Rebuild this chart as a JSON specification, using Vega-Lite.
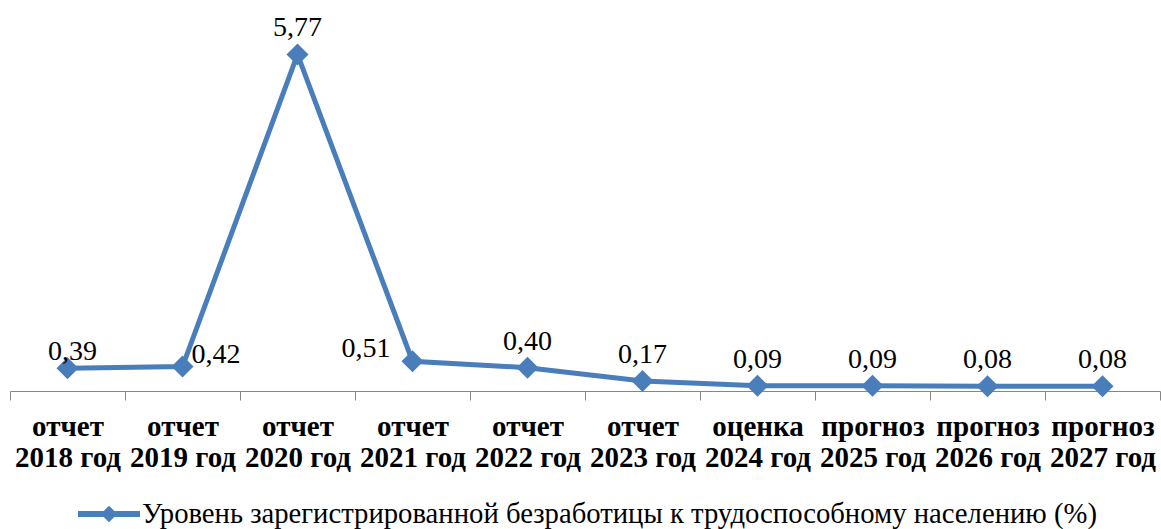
{
  "$schema": "https://vega.github.io/schema/vega-lite/v6.json",
  "width": 1150,
  "height": 350,
  "autosize": {"type": "none"},
  "padding": {"left": 10, "top": 41, "right": 1, "bottom": 138},
  "config": {
    "view": {"stroke": null},
    "font": "Liberation Serif, Times New Roman, serif",
    "text": {"font": "Liberation Serif, Times New Roman, serif"},
    "locale": {"number": {"decimal": ",", "thousands": " ", "grouping": [3], "currency": ["", " ₽"]}}
  },
  "data": {
    "values": [
      {"period": "отчет 2018 год", "value": 0.39, "series": "Уровень зарегистрированной безработицы к трудоспособному населению (%)"},
      {"period": "отчет 2019 год", "value": 0.42, "series": "Уровень зарегистрированной безработицы к трудоспособному населению (%)"},
      {"period": "отчет 2020 год", "value": 5.77, "series": "Уровень зарегистрированной безработицы к трудоспособному населению (%)"},
      {"period": "отчет 2021 год", "value": 0.51, "series": "Уровень зарегистрированной безработицы к трудоспособному населению (%)"},
      {"period": "отчет 2022 год", "value": 0.40, "series": "Уровень зарегистрированной безработицы к трудоспособному населению (%)"},
      {"period": "отчет 2023 год", "value": 0.17, "series": "Уровень зарегистрированной безработицы к трудоспособному населению (%)"},
      {"period": "оценка 2024 год", "value": 0.09, "series": "Уровень зарегистрированной безработицы к трудоспособному населению (%)"},
      {"period": "прогноз 2025 год", "value": 0.09, "series": "Уровень зарегистрированной безработицы к трудоспособному населению (%)"},
      {"period": "прогноз 2026 год", "value": 0.08, "series": "Уровень зарегистрированной безработицы к трудоспособному населению (%)"},
      {"period": "прогноз 2027 год", "value": 0.08, "series": "Уровень зарегистрированной безработицы к трудоспособному населению (%)"}
    ]
  },
  "encoding": {
    "x": {
      "field": "period",
      "type": "nominal",
      "sort": null,
      "scale": {"paddingInner": 0, "paddingOuter": 0},
      "axis": {
        "title": null,
        "labelExpr": "[slice(datum.label, 0, indexof(datum.label, ' ')), slice(datum.label, indexof(datum.label, ' ') + 1)]",
        "labelAngle": 0,
        "labelFont": "Liberation Serif, Times New Roman, serif",
        "labelFontSize": 29,
        "labelFontWeight": "bold",
        "labelColor": "#000000",
        "labelLineHeight": 31,
        "labelBaseline": "alphabetic",
        "labelPadding": 35,
        "labelBound": false,
        "labelOverlap": false,
        "labelFlush": false,
        "labelLimit": 300,
        "tickSize": 9,
        "tickColor": "#868686",
        "tickWidth": 1,
        "domainColor": "#868686",
        "domainWidth": 1,
        "tickBand": "extent",
        "grid": false
      }
    },
    "y": {"field": "value", "type": "quantitative", "scale": {"domain": [0, 6]}, "axis": null}
  },
  "layer": [
    {
      "mark": {"type": "line", "strokeWidth": 5},
      "encoding": {
        "color": {
          "field": "series",
          "type": "nominal",
          "scale": {"range": ["#4a7ebb"]},
          "legend": {
            "title": null,
            "orient": "none",
            "legendX": 68,
            "legendY": 442,
            "padding": 0,
            "labelFont": "Liberation Serif, Times New Roman, serif",
            "labelFontSize": 28.7,
            "labelColor": "#000000",
            "labelLimit": 1100,
            "labelOffset": 2,
            "symbolType": "M-1,-0.1L-0.17,-0.1L0,-0.27L0.17,-0.1L1,-0.1L1,0.1L0.17,0.1L0,0.27L-0.17,0.1L-1,0.1Z",
            "symbolSize": 3844,
            "symbolFillColor": "#4a7ebb",
            "symbolStrokeWidth": 0,
            "encode": {
              "symbols": {
                "update": {
                  "fill": {"value": "#4a7ebb"},
                  "stroke": {"value": "transparent"},
                  "strokeWidth": {"value": 0}
                }
              }
            }
          }
        }
      }
    },
    {
      "mark": {"type": "point", "shape": "diamond", "filled": true, "size": 484, "opacity": 1},
      "encoding": {
        "color": {"field": "series", "type": "nominal", "scale": {"range": ["#4a7ebb"]}}
      }
    },
    {
      "transform": [{"filter": "datum.period != 'отчет 2018 год' && datum.period != 'отчет 2019 год' && datum.period != 'отчет 2021 год'"}],
      "mark": {"type": "text", "dy": -18, "align": "center", "baseline": "alphabetic", "fontSize": 28, "font": "Liberation Serif, Times New Roman, serif", "color": "#000000"},
      "encoding": {"text": {"field": "value", "type": "quantitative", "format": ".2f"}}
    },
    {
      "transform": [{"filter": "datum.period == 'отчет 2018 год'"}],
      "mark": {"type": "text", "dx": 5, "dy": -8, "align": "center", "baseline": "alphabetic", "fontSize": 28, "font": "Liberation Serif, Times New Roman, serif", "color": "#000000"},
      "encoding": {"text": {"field": "value", "type": "quantitative", "format": ".2f"}}
    },
    {
      "transform": [{"filter": "datum.period == 'отчет 2019 год'"}],
      "mark": {"type": "text", "dx": 9, "dy": -4, "align": "left", "baseline": "alphabetic", "fontSize": 28, "font": "Liberation Serif, Times New Roman, serif", "color": "#000000"},
      "encoding": {"text": {"field": "value", "type": "quantitative", "format": ".2f"}}
    },
    {
      "transform": [{"filter": "datum.period == 'отчет 2021 год'"}],
      "mark": {"type": "text", "dx": -22, "dy": -4, "align": "right", "baseline": "alphabetic", "fontSize": 28, "font": "Liberation Serif, Times New Roman, serif", "color": "#000000"},
      "encoding": {"text": {"field": "value", "type": "quantitative", "format": ".2f"}}
    }
  ]
}
